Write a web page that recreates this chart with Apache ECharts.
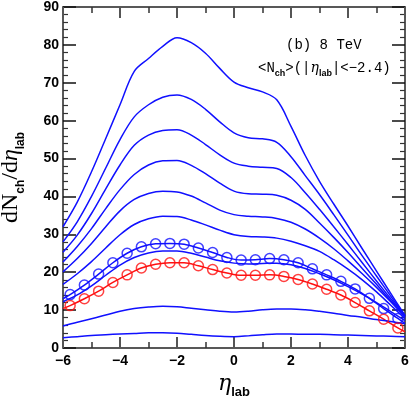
<!DOCTYPE html>
<html>
<head>
<meta charset="utf-8">
<script src="https://cdn.jsdelivr.net/npm/echarts@6/dist/echarts.min.js"></script>
<style>
html,body{margin:0;padding:0;background:#fff;}
#chart{width:411px;height:396px;}
</style>
</head>
<body>
<div id="chart"></div>
<script>
// eta grid for the model curves
const eta = [-6,-5.5,-5,-4.5,-4,-3.5,-3,-2.5,-2,-1.5,-1,-0.5,0,0.5,1,1.5,2,2.5,3,3.5,4,4.5,5,5.5,6];
// blue model curves, top to bottom
const curve1 = [32,38.5,46.5,55.3,64.2,73.0,76.4,79.6,81.9,80.6,77.8,73.8,70.2,68.7,67.6,65.5,58.5,50.8,44,38,32.2,26.2,20.3,14.4,8.6];
const curve2 = [28,33.3,40,47.5,55,61,64.2,66.2,66.8,65.6,63,59.7,56.8,55.5,55.2,54.3,50.5,45.5,40.5,35.2,29.8,24.3,19,13.7,8.5];
const curve3 = [25.3,29.8,35.5,42,48.3,53.5,56.2,57.4,57.6,56.2,53.7,51,48.8,48,47.7,47.4,45,41,36.6,32,27.3,22.5,17.7,13,8.4];
const curve4 = [22.7,26.8,31.5,36.8,41.8,45.8,48.3,49.4,49.5,48.2,46,43.5,41.4,40.7,40.6,40.3,39,36.6,33,29.2,25.2,21,16.8,12.5,8.3];
const curve5 = [20.1,23.6,27.6,32,36.2,39.2,40.8,41.4,41.2,40.1,38.3,36.4,35.2,34.8,34.6,34.2,33.2,31.4,29,26.2,23,19.6,16,12.2,8.2];
const curve6 = [16.8,19.6,22.8,26.4,29.9,32.6,34.1,34.8,34.7,33.8,32.5,31.1,29.9,29.4,29.3,29,28.2,27,25.5,23.3,20.8,18,14.8,11.3,7.8];
const curve8 = [12.2,14.0,16.4,19.2,21.9,23.9,25.1,25.6,25.6,25.0,24.0,23.0,22.4,22.2,22.3,22.4,22.0,21.0,19.6,18.0,16.2,14.2,12.0,9.6,7.2];
const curve10 = [5.8,6.8,7.7,8.7,9.7,10.4,10.8,11.0,10.9,10.5,10.1,9.7,9.5,9.7,10.1,10.3,10.3,10.1,9.7,9.2,8.6,8.1,7.5,7.0,6.4];
const curve11 = [2.7,3.0,3.3,3.5,3.7,3.85,4.0,4.0,3.9,3.6,3.3,3.1,3.0,3.2,3.5,3.7,3.7,3.6,3.6,3.5,3.4,3.3,3.2,3.1,3.0];

// circle (data) points
const etaPts = [-5.75,-5.25,-4.75,-4.25,-3.75,-3.25,-2.75,-2.25,-1.75,-1.25,-0.75,-0.25,0.25,0.75,1.25,1.75,2.25,2.75,3.25,3.75,4.25,4.75,5.25,5.75];
const bluePts = [14.1,16.6,19.5,22.5,25.0,26.7,27.5,27.6,27.4,26.4,25.2,23.9,23.2,23.3,23.6,23.3,22.5,20.9,19.3,17.6,15.6,13.1,10.4,7.8];
const redPts  = [11.2,13.0,15.0,17.3,19.3,21.1,22.1,22.5,22.5,21.7,20.7,19.8,19.2,19.2,19.3,18.9,18.1,16.9,15.5,14.0,12.0,9.8,7.6,5.3];
// line ends (at eta = -6 and 6) for the curves through the circles
const etaEnds = [-6, 6];
const blueEnds = [13.0, 6.5];
const redEnds = [10.4, 4.3];

const xTicks = [-6,-4,-2,0,2,4,6];
const yTicks = [0,10,20,30,40,50,60,70,80,90];

const BLUE = '#1010ff', RED = '#ff1010';
const pairs = (xs, ys) => xs.map((x, i) => [x, ys[i]]);
const withEnds = (xs, ys, xe, ye) => [[xe[0], ye[0]]].concat(pairs(xs, ys), [[xe[1], ye[1]]]);

function lineSeries(data, color) {
  return { type: 'line', data: data, smooth: 0.35, showSymbol: false, silent: true,
           lineStyle: { color: color, width: 1.5 }, z: 2 };
}
function circleSeries(data, color) {
  return { type: 'scatter', data: data, symbol: 'circle', symbolSize: 10, silent: true,
           itemStyle: { color: 'rgba(0,0,0,0)', borderColor: color, borderWidth: 1.5 }, z: 3 };
}

const minus = v => String(v).replace('-', '\u2212');
const labelFont = { fontFamily: 'Liberation Sans', fontWeight: 'bold', fontSize: 14, color: '#000' };

function xAx(pos, show) {
  return {
    type: 'value', position: pos, min: xTicks[0], max: xTicks[xTicks.length - 1], interval: 2,
    axisLine: { show: true, onZero: false, lineStyle: { color: '#222', width: 1.5 } },
    axisTick: { show: true, inside: true, length: 11, lineStyle: { color: '#555', width: 2 } },
    minorTick: { show: true, splitNumber: 2, length: 6, lineStyle: { color: '#333', width: 1.5 } },
    axisLabel: Object.assign({ show: show, margin: 6, formatter: minus }, labelFont),
    splitLine: { show: false },
    name: show ? '{eta|\u03b7}{sub|lab}' : '', nameLocation: 'middle', nameGap: 22,
    nameTextStyle: { rich: {
      eta: { fontFamily: 'DejaVu Serif', fontStyle: 'italic', fontSize: 22, color: '#000', lineHeight: 26, verticalAlign: 'top' },
      sub: { fontFamily: 'Liberation Sans', fontWeight: 'bold', fontSize: 13, color: '#000', lineHeight: 8, verticalAlign: 'bottom' }
    } }
  };
}
function yAx(pos, show) {
  return {
    type: 'value', position: pos, min: yTicks[0], max: yTicks[yTicks.length - 1], interval: 10,
    axisLine: { show: true, onZero: false, lineStyle: { color: '#222', width: 1.5 } },
    axisTick: { show: true, inside: true, length: 13, lineStyle: { color: '#111', width: 1.5 } },
    minorTick: { show: true, splitNumber: 5, length: 5, lineStyle: { color: '#333', width: 1.2 } },
    axisLabel: Object.assign({ show: show, margin: 4, formatter: minus }, labelFont),
    splitLine: { show: false },
    name: show ? '{m|dN}{sub|ch}{m|/d}{mi|\u03b7}{sub|lab}' : '', nameLocation: 'middle', nameRotate: 90, nameGap: 36,
    nameTextStyle: { rich: {
      m: { fontFamily: 'Liberation Serif', fontSize: 24, color: '#000', lineHeight: 28, verticalAlign: 'top' },
      mi: { fontFamily: 'Liberation Serif', fontStyle: 'italic', fontSize: 24, color: '#000', lineHeight: 28, verticalAlign: 'top' },
      sub: { fontFamily: 'Liberation Sans', fontWeight: 'bold', fontSize: 12, color: '#000', lineHeight: 8, verticalAlign: 'bottom' }
    } }
  };
}

const chart = echarts.init(document.getElementById('chart'), null, { renderer: 'canvas' });
chart.setOption({
  animation: false,
  backgroundColor: '#fff',
  grid: { left: 63, right: 6, top: 7, bottom: 48, containLabel: false, outerBoundsMode: 'none' },
  xAxis: [xAx('bottom', true), xAx('top', false)],
  yAxis: [yAx('left', true), yAx('right', false)],
  series: [
    lineSeries(pairs(eta, curve1), BLUE),
    lineSeries(pairs(eta, curve2), BLUE),
    lineSeries(pairs(eta, curve3), BLUE),
    lineSeries(pairs(eta, curve4), BLUE),
    lineSeries(pairs(eta, curve5), BLUE),
    lineSeries(pairs(eta, curve6), BLUE),
    lineSeries(withEnds(etaPts, bluePts, etaEnds, blueEnds), BLUE),
    lineSeries(pairs(eta, curve8), BLUE),
    lineSeries(withEnds(etaPts, redPts, etaEnds, redEnds), RED),
    lineSeries(pairs(eta, curve10), BLUE),
    lineSeries(pairs(eta, curve11), BLUE),
    circleSeries(pairs(etaPts, bluePts), BLUE),
    circleSeries(pairs(etaPts, redPts), RED)
  ],
  graphic: [
    { type: 'text', left: 286, top: 38, silent: true,
      style: { text: '(b) 8 TeV', font: '14px "Liberation Mono"', fill: '#000' } },
    { type: 'text', left: 258, top: 61, silent: true,
      style: { text: '{m|<N}{s|ch}{m|>(|}{mi|\u03b7}{s|lab}{m||<\u22122.4)}', rich: {
        m: { fontFamily: 'Liberation Mono', fontSize: 14, fill: '#000', lineHeight: 17, verticalAlign: 'top' },
        mi: { fontFamily: 'DejaVu Serif', fontStyle: 'italic', fontSize: 14, fill: '#000', lineHeight: 17, verticalAlign: 'top' },
        s: { fontFamily: 'Liberation Sans', fontWeight: 'bold', fontSize: 9, fill: '#000', lineHeight: 8, verticalAlign: 'bottom' }
      } } }
  ]
});
</script>
</body>
</html>
